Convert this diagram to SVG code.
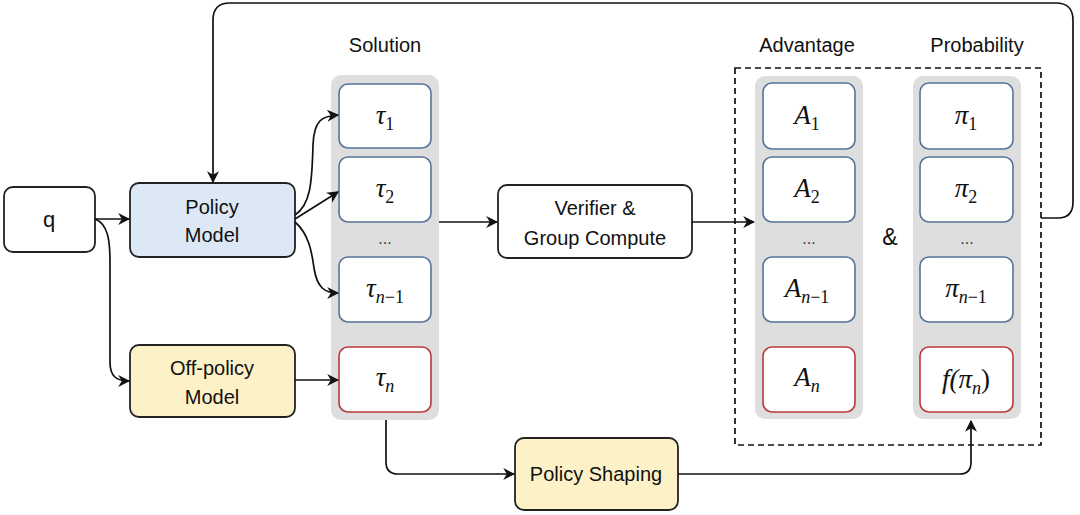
<svg xmlns="http://www.w3.org/2000/svg" width="1080" height="515" viewBox="0 0 1080 515">
<defs>
<marker id="arr" viewBox="0 0 10 10" refX="9" refY="5" markerWidth="12" markerHeight="12" markerUnits="userSpaceOnUse" orient="auto">
<path d="M0,0 L10,5 L0,10 L3,5 Z" fill="#111"/>
</marker>
<style>
.lbl{font-family:"Liberation Sans","DejaVu Sans",sans-serif;font-size:20px;fill:#111;text-anchor:middle}
.node{stroke:#222;stroke-width:1.8}
.col{fill:#dedede;stroke:none}
.sb{fill:#fff;stroke:#56739a;stroke-width:1.6}
.sr{fill:#fff;stroke:#b8393c;stroke-width:1.6}
.m{font-family:"Liberation Serif","DejaVu Serif",serif;font-style:italic;font-size:27px;fill:#111;text-anchor:middle}
.s{font-style:normal;font-size:18px}
.si{font-style:italic;font-size:18px}
.dots{font-family:"Liberation Sans",sans-serif;font-size:16px;fill:#333;text-anchor:middle}
.c{fill:none;stroke:#111;stroke-width:1.7}
</style>
</defs>

<g id="labels">
<text class="lbl" x="385" y="52">Solution</text>
<text class="lbl" x="807" y="52">Advantage</text>
<text class="lbl" x="977" y="52">Probability</text>
<text class="lbl" x="890" y="245" style="font-size:23px">&amp;</text>
</g>

<g id="node-q">
<rect class="node" x="4" y="187" width="91" height="65" rx="9" fill="#fff"/>
<text class="lbl" x="49" y="227" style="font-size:22px">q</text>
</g>

<g id="node-policy">
<rect class="node" x="130" y="183" width="165" height="74" rx="9" fill="#dce8f5"/>
<text class="lbl" x="212" y="214">Policy</text>
<text class="lbl" x="212" y="242">Model</text>
</g>

<g id="node-offpolicy">
<rect class="node" x="130" y="345" width="165" height="72" rx="9" fill="#fdf1c8"/>
<text class="lbl" x="212" y="375">Off-policy</text>
<text class="lbl" x="212" y="404">Model</text>
</g>

<g id="node-solution">
<rect class="col" x="331" y="75" width="108" height="345" rx="10"/>
<rect class="sb" x="339" y="84" width="92" height="64" rx="9"/>
<text class="m" x="385" y="124">τ<tspan class="s" dy="6">1</tspan></text>
<rect class="sb" x="339" y="157" width="92" height="65" rx="9"/>
<text class="m" x="385" y="197">τ<tspan class="s" dy="6">2</tspan></text>
<text class="dots" x="385" y="244">...</text>
<rect class="sb" x="339" y="257" width="92" height="65" rx="9"/>
<text class="m" x="385" y="297">τ<tspan class="si" dy="6">n</tspan><tspan class="s">−1</tspan></text>
<rect class="sr" x="339" y="347" width="92" height="65" rx="9"/>
<text class="m" x="385" y="386">τ<tspan class="si" dy="6">n</tspan></text>
</g>

<g id="node-verifier">
<rect class="node" x="498" y="185" width="194" height="73" rx="9" fill="#fff"/>
<text class="lbl" x="595" y="215">Verifier &amp;</text>
<text class="lbl" x="595" y="245">Group Compute</text>
</g>

<g id="node-group">
<rect x="735" y="68" width="306" height="377" fill="none" stroke="#111" stroke-width="1.7" stroke-dasharray="6,4"/>
</g>

<g id="node-advantage">
<rect class="col" x="755" y="76" width="108" height="343" rx="10"/>
<rect class="sb" x="763" y="83" width="92" height="66" rx="9"/>
<text class="m" x="807" y="124">A<tspan class="s" dy="6">1</tspan></text>
<rect class="sb" x="763" y="157" width="92" height="65" rx="9"/>
<text class="m" x="807" y="197">A<tspan class="s" dy="6">2</tspan></text>
<text class="dots" x="809" y="244">...</text>
<rect class="sb" x="763" y="257" width="92" height="65" rx="9"/>
<text class="m" x="807" y="297">A<tspan class="si" dy="6">n</tspan><tspan class="s">−1</tspan></text>
<rect class="sr" x="763" y="347" width="92" height="65" rx="9"/>
<text class="m" x="807" y="386">A<tspan class="si" dy="6">n</tspan></text>
</g>

<g id="node-probability">
<rect class="col" x="913" y="76" width="108" height="343" rx="10"/>
<rect class="sb" x="920" y="83" width="93" height="66" rx="9"/>
<text class="m" x="966" y="124">π<tspan class="s" dy="6">1</tspan></text>
<rect class="sb" x="920" y="157" width="93" height="65" rx="9"/>
<text class="m" x="966" y="197">π<tspan class="s" dy="6">2</tspan></text>
<text class="dots" x="967" y="244">...</text>
<rect class="sb" x="920" y="257" width="93" height="65" rx="9"/>
<text class="m" x="966" y="297">π<tspan class="si" dy="6">n</tspan><tspan class="s">−1</tspan></text>
<rect class="sr" x="920" y="347" width="93" height="65" rx="9"/>
<text class="m" x="966" y="388">f(π<tspan class="si" dy="6">n</tspan><tspan dy="-6" style="font-style:normal">)</tspan></text>
</g>

<g id="node-shaping">
<rect class="node" x="515" y="438" width="163" height="72" rx="9" fill="#fdf1c8"/>
<text class="lbl" x="596" y="481">Policy Shaping</text>
</g>

<g id="connectors">
<path class="c" d="M95,219 L129,219" marker-end="url(#arr)"/>
<path class="c" d="M95,219 C108,224 110,240 110,262 L110,362 C110,376 116,381 129,381" marker-end="url(#arr)"/>
<path class="c" d="M295,215 C310,205 312,185 313,145 C314,120 322,116 338,115" marker-end="url(#arr)"/>
<path class="c" d="M295,219 L338,192" marker-end="url(#arr)"/>
<path class="c" d="M295,222 C310,235 312,255 314,268 C317,288 325,293 338,293" marker-end="url(#arr)"/>
<path class="c" d="M295,380 L338,380" marker-end="url(#arr)"/>
<path class="c" d="M439,222 L497,222" marker-end="url(#arr)"/>
<path class="c" d="M692,222 L754,222" marker-end="url(#arr)"/>
<path class="c" d="M1041,218 L1058,218 C1068,218 1073,212 1073,202 L1073,20 C1073,9 1067,3 1056,3 L230,3 C219,3 213,9 213,20 L213,182" marker-end="url(#arr)"/>
<path class="c" d="M386,420 L386,462 C386,470 390,474 398,474 L514,474" marker-end="url(#arr)"/>
<path class="c" d="M678,474 L960,474 C968,474 971,470 971,462 L971,421" marker-end="url(#arr)"/>
</g>
</svg>
